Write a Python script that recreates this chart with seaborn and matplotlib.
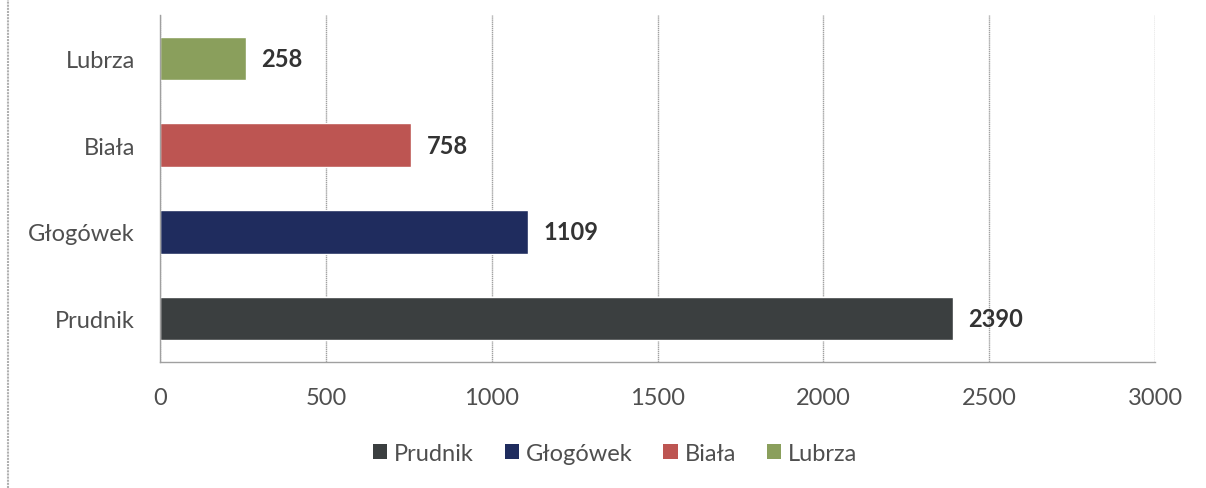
import seaborn as sns
import matplotlib.pyplot as plt
import pandas as pd
from matplotlib.patches import Patch
from matplotlib.lines import Line2D

# data
towns = ['Lubrza', 'Biała', 'Głogówek', 'Prudnik']
values = [258, 758, 1109, 2390]
colors = ['#8a9f5c', '#bd5552', '#1f2c5e', '#3b3f40']
legend_order = ['Prudnik', 'Głogówek', 'Biała', 'Lubrza']

df = pd.DataFrame({'town': towns, 'value': values})
palette = dict(zip(towns, colors))

sns.set_style("white")
plt.rcParams['font.family'] = ['Lato', 'DejaVu Sans']

fig = plt.figure(figsize=(12.06, 4.89), dpi=100)
ax = fig.add_axes([0.1327, 0.2577, 0.825, 0.7095])

sns.barplot(data=df, y='town', x='value', hue='town', order=towns,
            palette=palette, orient='h', width=0.5, legend=False,
            saturation=1, ax=ax)

ax.set_xlim(0, 3000)
ax.set_ylim(3.5, -0.5)
ax.set_xticks(range(0, 3001, 500))
ax.set_xlabel('')
ax.set_ylabel('')

grid_col = '#a0a0a0'
ax.grid(axis='x', color=grid_col, linewidth=1.0, linestyle=(0, (1, 0.5)))
ax.set_axisbelow(True)
for s in ['top', 'right']:
    ax.spines[s].set_visible(False)
for s in ['left', 'bottom']:
    ax.spines[s].set_color(grid_col)
    ax.spines[s].set_linewidth(1.0)

text_col = '#4f4f4f'
ax.tick_params(axis='x', length=6, color=grid_col, labelsize=17,
               labelcolor=text_col, pad=12)
ax.tick_params(axis='y', which='major', length=0, labelsize=17,
               labelcolor=text_col, pad=18)
ax.set_yticks([-0.5, 0.5, 1.5, 2.5, 3.5], minor=True)
ax.tick_params(axis='y', which='minor', length=6, color=grid_col)

for i, v in enumerate(values):
    ax.annotate(str(v), xy=(v, i), xytext=(11, 0), textcoords='offset points',
                va='center', ha='left', fontsize=17, fontweight='bold',
                color='#333333')

handles = [Patch(facecolor=palette[t], edgecolor='none') for t in legend_order]
fig.legend(handles, legend_order, loc='center', bbox_to_anchor=(0.51, 0.07),
           ncol=4, frameon=False, fontsize=17, handlelength=0.6,
           handleheight=0.6, handletextpad=0.3, columnspacing=1.3,
           labelcolor=text_col)

# left border of the original frame
fig.add_artist(Line2D([0.007, 0.007], [0, 1], transform=fig.transFigure,
                      color='#b0b0b0', linewidth=1.5, linestyle=(0, (1, 0.5))))

plt.savefig('out.png', dpi=100)
plt.close()
